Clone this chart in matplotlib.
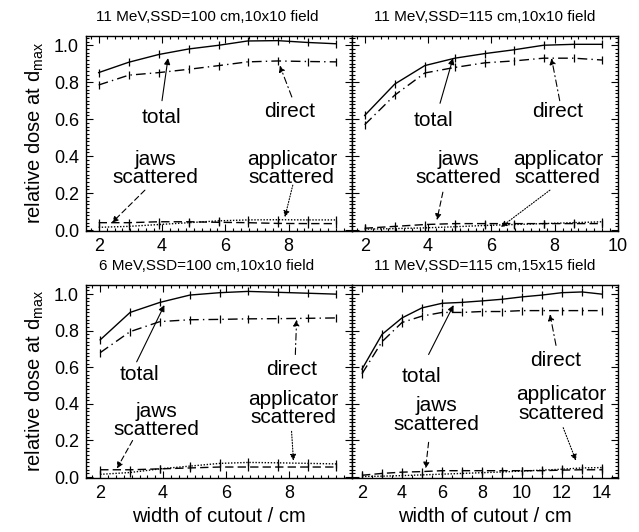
import matplotlib
matplotlib.use("Agg")
import matplotlib.pyplot as plt
from matplotlib.ticker import MultipleLocator

plt.rcParams['font.family'] = ['Liberation Sans', 'DejaVu Sans']
plt.rcParams['mathtext.fontset'] = 'custom'
plt.rcParams['mathtext.rm'] = 'Liberation Sans'
plt.rcParams['mathtext.it'] = 'Liberation Sans'

# ---------------- data ----------------
titles = ["11 MeV,SSD=100 cm,10x10 field", "11 MeV,SSD=115 cm,10x10 field",
          "6 MeV,SSD=100 cm,10x10 field", "11 MeV,SSD=115 cm,15x15 field"]

x_10 = [2.0, 2.95, 3.9, 4.85, 5.8, 6.7, 7.65, 8.6, 9.5]
x_15 = [2, 3, 4, 5, 6, 7, 8, 9, 10, 11, 12, 13, 14]

# panel a: 11 MeV, SSD=100, 10x10
a_total = [0.852, 0.908, 0.950, 0.980, 1.000, 1.023, 1.025, 1.015, 1.008]
a_direct = [0.785, 0.838, 0.852, 0.870, 0.890, 0.910, 0.915, 0.912, 0.910]
a_jaws = [0.040, 0.040, 0.045, 0.045, 0.042, 0.040, 0.036, 0.035, 0.035]
a_appl = [0.015, 0.020, 0.030, 0.040, 0.050, 0.055, 0.056, 0.055, 0.055]

# panel b: 11 MeV, SSD=115, 10x10
b_total = [0.620, 0.790, 0.890, 0.930, 0.955, 0.975, 1.000, 1.005, 1.005]
b_direct = [0.570, 0.730, 0.850, 0.880, 0.905, 0.915, 0.930, 0.930, 0.920]
b_jaws = [0.010, 0.020, 0.030, 0.035, 0.035, 0.035, 0.035, 0.035, 0.035]
b_appl = [0.005, 0.008, 0.012, 0.018, 0.025, 0.030, 0.035, 0.040, 0.045]

# panel c: 6 MeV, SSD=100, 10x10
c_total = [0.750, 0.900, 0.955, 0.995, 1.008, 1.015, 1.010, 1.005, 1.000]
c_direct = [0.680, 0.795, 0.850, 0.860, 0.862, 0.865, 0.866, 0.868, 0.870]
c_jaws = [0.040, 0.040, 0.045, 0.050, 0.055, 0.055, 0.055, 0.055, 0.055]
c_appl = [0.015, 0.025, 0.045, 0.060, 0.075, 0.080, 0.078, 0.075, 0.072]

# panel d: 11 MeV, SSD=115, 15x15
d_total = [0.590, 0.780, 0.870, 0.925, 0.950, 0.955, 0.963, 0.972, 0.985, 0.995, 1.008, 1.012, 1.000]
d_direct = [0.565, 0.740, 0.845, 0.880, 0.900, 0.900, 0.905, 0.905, 0.910, 0.910, 0.910, 0.910, 0.910]
d_jaws = [0.010, 0.020, 0.027, 0.030, 0.035, 0.035, 0.035, 0.035, 0.035, 0.035, 0.038, 0.040, 0.040]
d_appl = [0.003, 0.005, 0.008, 0.012, 0.016, 0.020, 0.024, 0.028, 0.033, 0.038, 0.043, 0.050, 0.052]

xticks_a = [2, 4, 6, 8]
xticks_b = [2, 4, 6, 8, 10]
xticks_c = [2, 4, 6, 8]
xticks_d = [2, 4, 6, 8, 10, 12, 14]
yticks = [0.0, 0.2, 0.4, 0.6, 0.8, 1.0]

# annotation (text position, arrow tail, arrow tip) in data coords
ann = {
    0: [("total", (3.97, 0.61), (4.0, 0.70), (4.19, 0.93), '-'),
        ("direct", (8.04, 0.64), (8.1, 0.72), (7.72, 0.89), (0, (6, 3, 1, 3))),
        ("jaws\nscattered", (3.78, 0.335), (3.46, 0.216), (2.42, 0.04), (0, (5, 3))),
        ("applicator\nscattered", (8.1, 0.335), (8.13, 0.243), (7.88, 0.07), (0, (1, 1.5)))],
    1: [("total", (4.16, 0.595), (4.38, 0.686), (4.79, 0.93), '-'),
        ("direct", (8.1, 0.64), (8.16, 0.70), (7.9, 0.93), (0, (6, 3, 1, 3))),
        ("jaws\nscattered", (4.96, 0.335), (4.47, 0.205), (4.28, 0.054), (0, (5, 3))),
        ("applicator\nscattered", (8.1, 0.335), (7.85, 0.216), (6.3, 0.016), (0, (1, 1.5)))],
    2: [("total", (3.25, 0.56), (3.16, 0.63), (4.04, 0.94), '-'),
        ("direct", (8.08, 0.59), (8.2, 0.67), (8.24, 0.86), (0, (6, 3, 1, 3))),
        ("jaws\nscattered", (3.79, 0.31), (3.03, 0.20), (2.53, 0.047), (0, (5, 3))),
        ("applicator\nscattered", (8.14, 0.375), (8.08, 0.25), (8.14, 0.09), (0, (1, 1.5)))],
    3: [("total", (4.99, 0.55), (5.33, 0.67), (6.58, 0.94), '-'),
        ("direct", (11.66, 0.64), (11.7, 0.72), (11.4, 0.89), (0, (6, 3, 1, 3))),
        ("jaws\nscattered", (5.73, 0.34), (5.33, 0.19), (5.18, 0.047), (0, (5, 3))),
        ("applicator\nscattered", (11.96, 0.40), (12.06, 0.27), (12.7, 0.09), (0, (1, 1.5)))],
}

panels = [
    (x_10, a_total, a_direct, a_jaws, a_appl, xticks_a, (1.6, 10.0), 0.25),
    (x_10, b_total, b_direct, b_jaws, b_appl, xticks_b, (1.6, 10.0), 0.25),
    (x_10, c_total, c_direct, c_jaws, c_appl, xticks_c, (1.55, 10.0), 0.25),
    (x_15, d_total, d_direct, d_jaws, d_appl, xticks_d, (1.5, 14.8), 0.5),
]

fig = plt.figure(figsize=(6.39, 5.32), dpi=100)
L, M, R = 86 / 639, 352 / 639, 618 / 639
H = 532
rects = [
    (L, 1 - 231 / H, M - L, 195 / H),
    (M, 1 - 231 / H, R - M, 195 / H),
    (L, 1 - 478 / H, M - L, 193 / H),
    (M, 1 - 478 / H, R - M, 193 / H),
]
title_x = [0.455, 0.5, 0.455, 0.5]

for i, (xs, tot, dire, jaw, app, xt, xl, xminor) in enumerate(panels):
    ax = fig.add_axes(rects[i])
    kw = dict(color='k', lw=1.0, marker='|', ms=6, mew=0.9)
    ax.plot(xs, tot, ls='-', **kw)
    ax.plot(xs, dire, ls=(0, (7, 3, 1, 3)), **kw)
    ax.plot(xs, jaw, ls=(0, (6, 3)), **kw)
    ax.plot(xs, app, ls=(0, (1, 1.2)), **kw)

    ax.set_xlim(*xl)
    ax.set_ylim(-0.005, 1.05)
    ax.set_xticks(xt)
    ax.set_yticks(yticks)
    ax.xaxis.set_minor_locator(MultipleLocator(xminor))
    ax.yaxis.set_minor_locator(MultipleLocator(0.02))
    ax.tick_params(which='both', direction='in', top=True, right=True, width=0.8)
    ax.tick_params(which='major', length=5, labelsize=13, pad=5)
    ax.tick_params(which='minor', length=2.5)
    for s in ax.spines.values():
        s.set_linewidth(1.0)
    if i in (1, 3):
        ax.set_yticklabels([])
    else:
        ax.set_yticklabels([f"{v:.1f}" for v in yticks])
        ax.set_ylabel("relative dose at d$_{\\rm max}$", fontsize=14.5, labelpad=6)
    if i in (2, 3):
        ax.set_xlabel("width of cutout / cm", fontsize=14.5, labelpad=4)

    ax.text(title_x[i], 1.0 + 12 / 195, titles[i], transform=ax.transAxes,
            ha='center', va='bottom', fontsize=11)

    for label, tpos, tail, tip, ls in ann[i]:
        ax.text(tpos[0], tpos[1], label, ha='center', va='center', fontsize=15,
                linespacing=0.95)
        ax.annotate('', xy=tip, xytext=tail,
                    arrowprops=dict(arrowstyle='-|>', color='k', lw=0.8, ls=ls,
                                    mutation_scale=9, shrinkA=0, shrinkB=0))

fig.savefig("out.png", dpi=100)
